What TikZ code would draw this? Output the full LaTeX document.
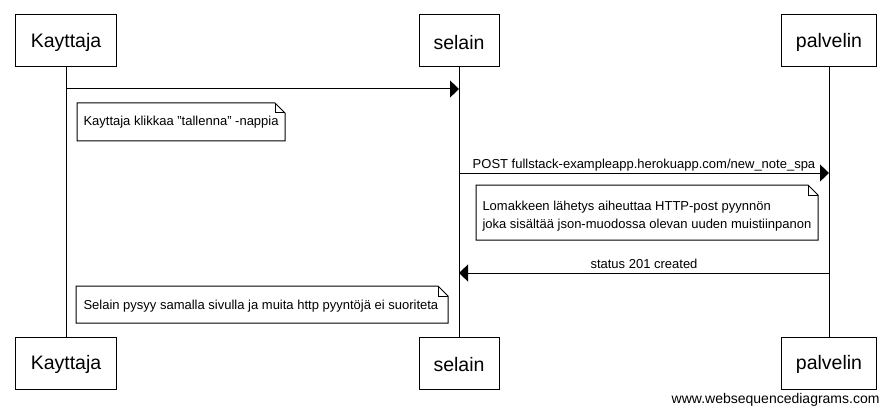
\documentclass[tikz,border=0pt]{standalone}
\usepackage{fontspec}
\setmainfont{Liberation Sans}
\usetikzlibrary{arrows.meta}
\begin{document}
\begin{tikzpicture}[x=1pt,y=-1pt,line width=1pt,
  actor/.style={draw,minimum width=#1,minimum height=52pt,inner sep=0pt,text height=18pt,font=\fontsize{19.5}{22}\selectfont},
  msg/.style={-{Triangle[length=9pt,width=17pt]}},
  lbl/.style={font=\fontsize{13}{15}\selectfont,inner sep=0pt,anchor=base},
  ntext/.style={font=\fontsize{13}{15}\selectfont,inner sep=0pt,anchor=base west},
  notebox/.style={draw,line join=miter}]
\useasboundingbox (0,0) rectangle (890,414);
% actors
\node[actor=101pt] (kt) at (66,41) {Kayttaja};
\node[actor=80pt] (st) at (459,41) {selain};
\node[actor=95pt] (pt) at (829,41) {palvelin};
\node[actor=101pt] (kb) at (66,363) {Kayttaja};
\node[actor=80pt] (sb) at (459,363) {selain};
\node[actor=95pt] (pb) at (829,363) {palvelin};
% lifelines
\draw (kt.south) -- (kb.north);
\draw (st.south) -- (sb.north);
\draw (pt.south) -- (pb.north);
% message rows
\coordinate (r1) at (0,89);
\coordinate (r2) at (0,173);
\coordinate (r3) at (0,273);
\draw[msg] (kt.south |- r1) -- (st.south |- r1);
% note 1
\draw[notebox] (77,103) -- (275,103) -- (285,113) -- (285,141) -- (77,141) -- cycle;
\draw (275,103) -- (275,113) -- (285,113);
\node[ntext] (n1) at (83,126) {Kayttaja klikkaa "tallenna" -nappia};
% message 2
\draw[msg] (st.south |- r2) -- (pt.south |- r2);
\node[lbl] (l2) at (644,168.5) {POST fullstack-exampleapp.herokuapp.com/new\_note\_spa};
% note 2
\draw[notebox] (476,185) -- (808,185) -- (818,195) -- (818,240) -- (476,240) -- cycle;
\draw (808,185) -- (808,195) -- (818,195);
\node[ntext] (n2a) at (482,210) {Lomakkeen lähetys aiheuttaa HTTP-post pyynnön};
\node[ntext] (n2b) at (482,228) {joka sisältää json-muodossa olevan uuden muistiinpanon};
% message 3
\draw[msg] (pt.south |- r3) -- (st.south |- r3);
\node[lbl] (l3) at (644,268) {status 201 created};
% note 3
\draw[notebox] (76,286) -- (438,286) -- (448,296) -- (448,323) -- (76,323) -- cycle;
\draw (438,286) -- (438,296) -- (448,296);
\node[ntext] (n3) at (83,309.5) {Selain pysyy samalla sivulla ja muita http pyyntöjä ei suoriteta};
% watermark
\node[font=\fontsize{14}{16}\selectfont,inner sep=0pt,anchor=base east] (wm) at (880,403.5) {www.websequencediagrams.com};
\end{tikzpicture}
\end{document}
